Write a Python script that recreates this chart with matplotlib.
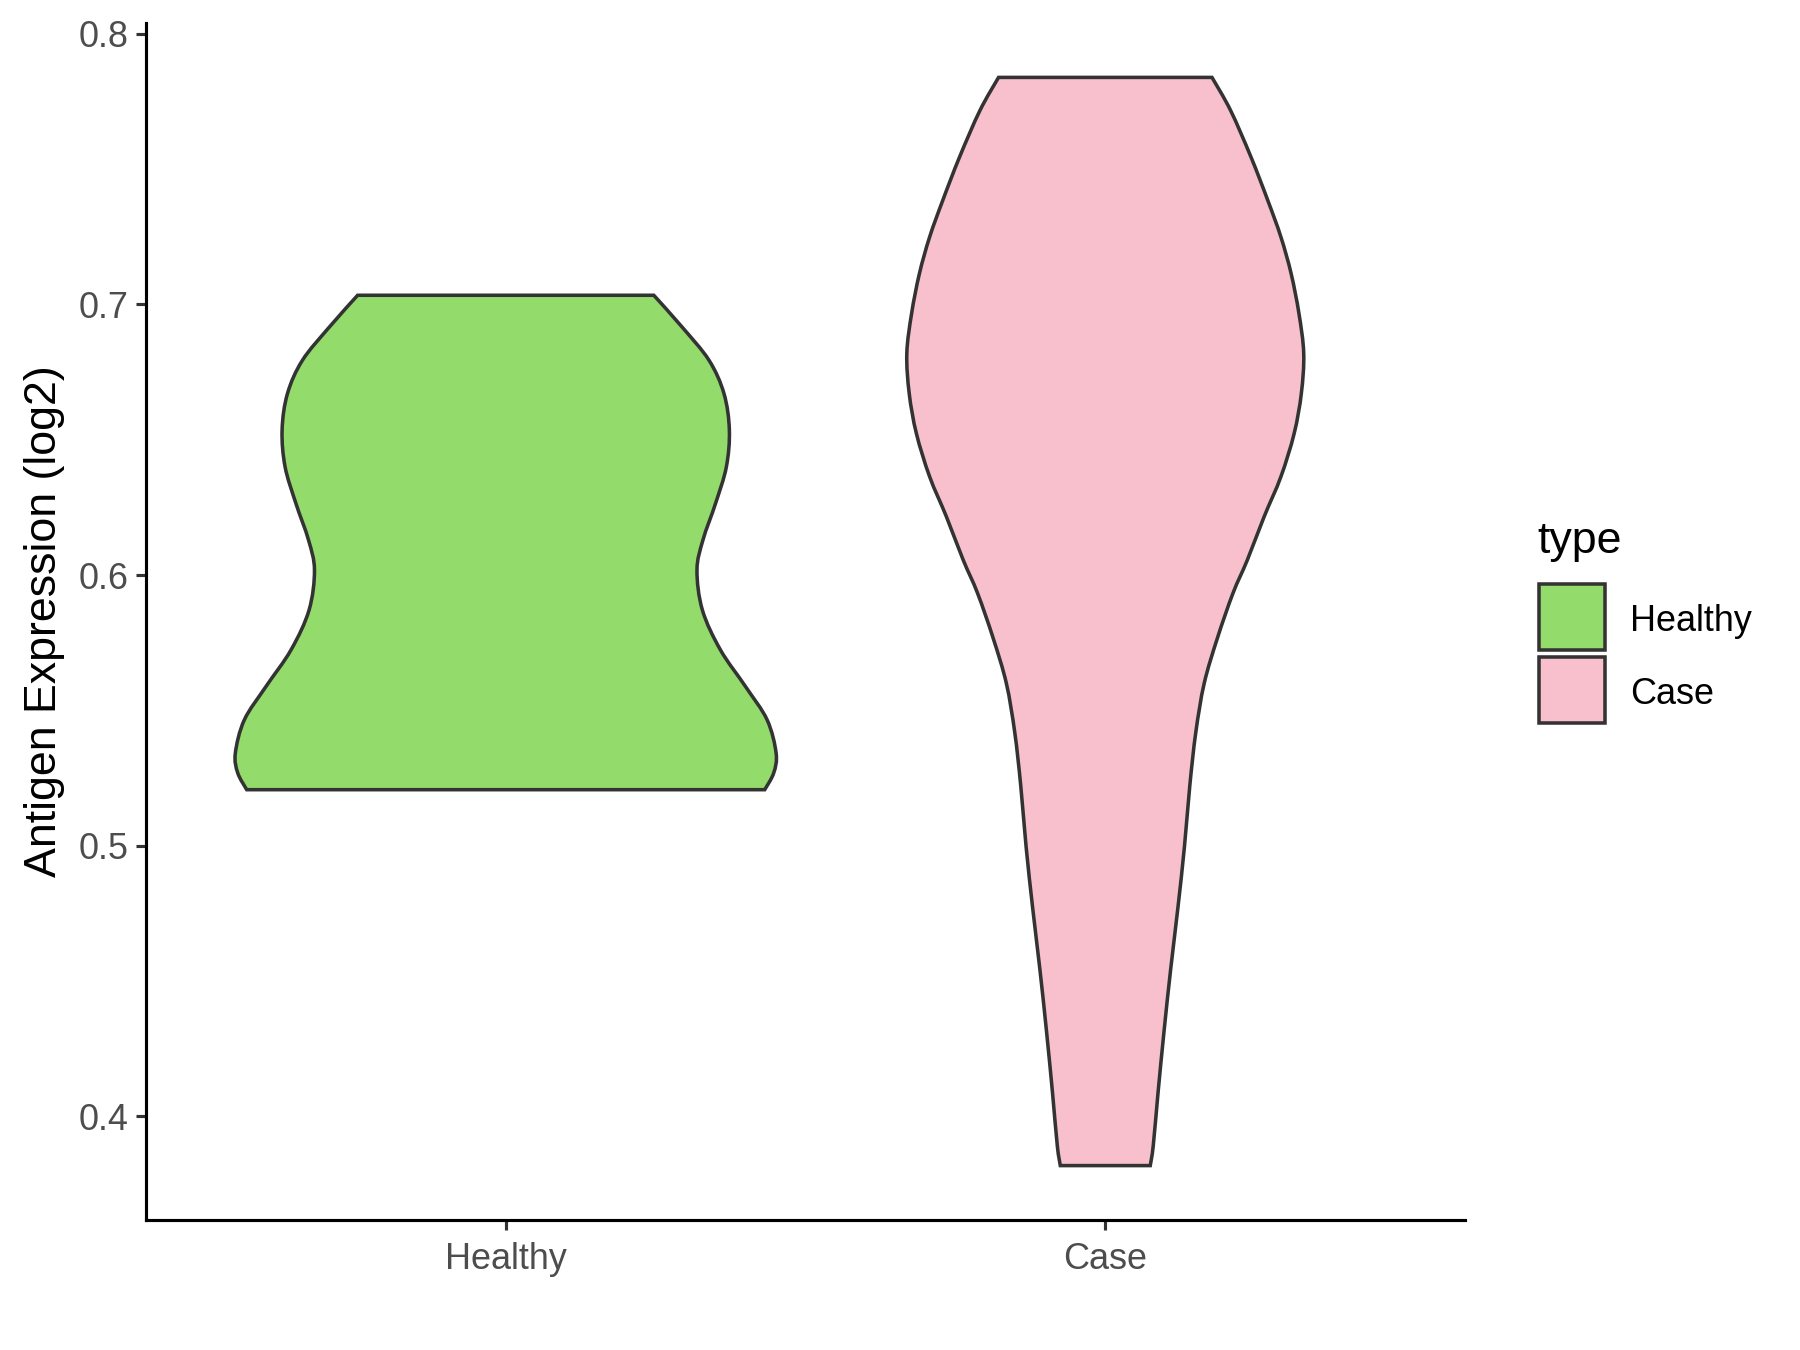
#!/usr/bin/env python3
"""Violin plot of antigen expression, Healthy vs Case (ggplot-like look)."""

import matplotlib
matplotlib.use("Agg")
import matplotlib.pyplot as plt
import numpy as np
from matplotlib.patches import PathPatch, Rectangle
from matplotlib.path import Path

plt.rcParams["font.family"] = ["Liberation Sans", "DejaVu Sans"]

CATEGORIES = ["Healthy", "Case"]
COLORS = ["#93DC6B", "#F7C0CC"]
LEGEND_TITLE = "type"
Y_LABEL = "Antigen Expression (log2)"
Y_TICKS = [0.4, 0.5, 0.6, 0.7, 0.8]

# violin outline: expression value -> half width (x units)
HEALTHY_Y = [0.5207, 0.5269, 0.5342, 0.5465, 0.5588, 0.5724, 0.5871, 0.6019,
             0.6130, 0.6265, 0.6400, 0.6536, 0.6671, 0.6794, 0.6917, 0.7034]
HEALTHY_W = [0.432, 0.447, 0.451, 0.436, 0.400, 0.358, 0.328, 0.319,
             0.329, 0.350, 0.368, 0.373, 0.364, 0.339, 0.294, 0.247]

CASE_Y = [0.3818, 0.3891, 0.4087, 0.4314, 0.4542, 0.4768, 0.4995, 0.5222,
          0.5419, 0.5600, 0.5767, 0.5933, 0.6056, 0.6216, 0.6364, 0.6523,
          0.6671, 0.6819, 0.6967, 0.7114, 0.7249, 0.7385, 0.7545, 0.7717, 0.7839]
CASE_W = [0.075, 0.080, 0.088, 0.098, 0.109, 0.121, 0.132, 0.141,
          0.151, 0.165, 0.187, 0.213, 0.237, 0.265, 0.293, 0.315,
          0.327, 0.331, 0.323, 0.310, 0.293, 0.271, 0.243, 0.209, 0.178]

OUTLINE = "#333333"


def _smooth_side(pts):
    """Catmull-Rom through pts, returned as cubic bezier vertices (no MOVETO)."""
    pts = np.asarray(pts, dtype=float)
    ext = np.vstack([pts[0], pts, pts[-1]])
    verts = []
    for i in range(1, len(ext) - 2):
        p0, p1, p2, p3 = ext[i - 1], ext[i], ext[i + 1], ext[i + 2]
        verts += [p1 + (p2 - p0) / 6.0, p2 - (p3 - p1) / 6.0, p2]
    return verts


def violin_patch(x0, ys, ws, color):
    ys = np.asarray(ys)
    ws = np.asarray(ws)
    left = np.column_stack([x0 - ws, ys])              # bottom -> top
    right = np.column_stack([x0 + ws, ys])[::-1]      # top -> bottom
    verts = [left[0]]
    codes = [Path.MOVETO]
    lv = _smooth_side(left)
    verts += lv
    codes += [Path.CURVE4] * len(lv)
    verts.append(right[0])
    codes.append(Path.LINETO)
    rv = _smooth_side(right)
    verts += rv
    codes += [Path.CURVE4] * len(rv)
    verts.append(left[0])
    codes.append(Path.CLOSEPOLY)
    return PathPatch(Path(verts, codes), facecolor=color, edgecolor=OUTLINE,
                     linewidth=1.7, joinstyle="miter")


fig = plt.figure(figsize=(12, 9), dpi=150)
ax = fig.add_axes([146 / 1800, 130 / 1350, (1465 - 146) / 1800, (1327 - 130) / 1350])

profiles = [(HEALTHY_Y, HEALTHY_W), (CASE_Y, CASE_W)]
for i, ((ys, ws), col) in enumerate(zip(profiles, COLORS), start=1):
    ax.add_patch(violin_patch(i, ys, ws, col))

lo = min(min(HEALTHY_Y), min(CASE_Y))
hi = max(max(HEALTHY_Y), max(CASE_Y))
pad = 0.05 * (hi - lo)
ax.set_ylim(lo - pad, hi + pad)
ax.set_xlim(0.4, len(CATEGORIES) + 0.6)

ax.set_xticks(range(1, len(CATEGORIES) + 1))
ax.set_xticklabels(CATEGORIES)
ax.set_yticks(Y_TICKS)
ax.set_yticklabels([f"{v:.1f}" for v in Y_TICKS])
ax.tick_params(axis="both", length=5, width=1.5, color=OUTLINE,
               labelsize=17.3, labelcolor="#4D4D4D")
ax.tick_params(axis="x", pad=5.5)
ax.tick_params(axis="y", pad=3.5)
for side in ("top", "right"):
    ax.spines[side].set_visible(False)
for side in ("left", "bottom"):
    ax.spines[side].set_linewidth(1.5)
    ax.spines[side].set_color("black")
    ax.spines[side].set_capstyle("projecting")
ax.set_ylabel(Y_LABEL, fontsize=21.5, labelpad=6.5)

# legend drawn in figure pixels (ggplot style keys)
fig.text(1537 / 1800, 1 - 541 / 1350, LEGEND_TITLE, fontsize=21.5,
         ha="left", va="center")
key_tops = [584, 657]
for cat, col, top in zip(CATEGORIES, COLORS, key_tops):
    fig.patches.append(Rectangle((1539 / 1800, 1 - (top + 66) / 1350), 66 / 1800, 66 / 1350,
                                 transform=fig.transFigure, facecolor=col,
                                 edgecolor=OUTLINE, linewidth=1.7))
    fig.text(1630 / 1800, 1 - (top + 38) / 1350, cat, fontsize=17.3,
             ha="left", va="center")

fig.savefig("out.png", dpi=150)
